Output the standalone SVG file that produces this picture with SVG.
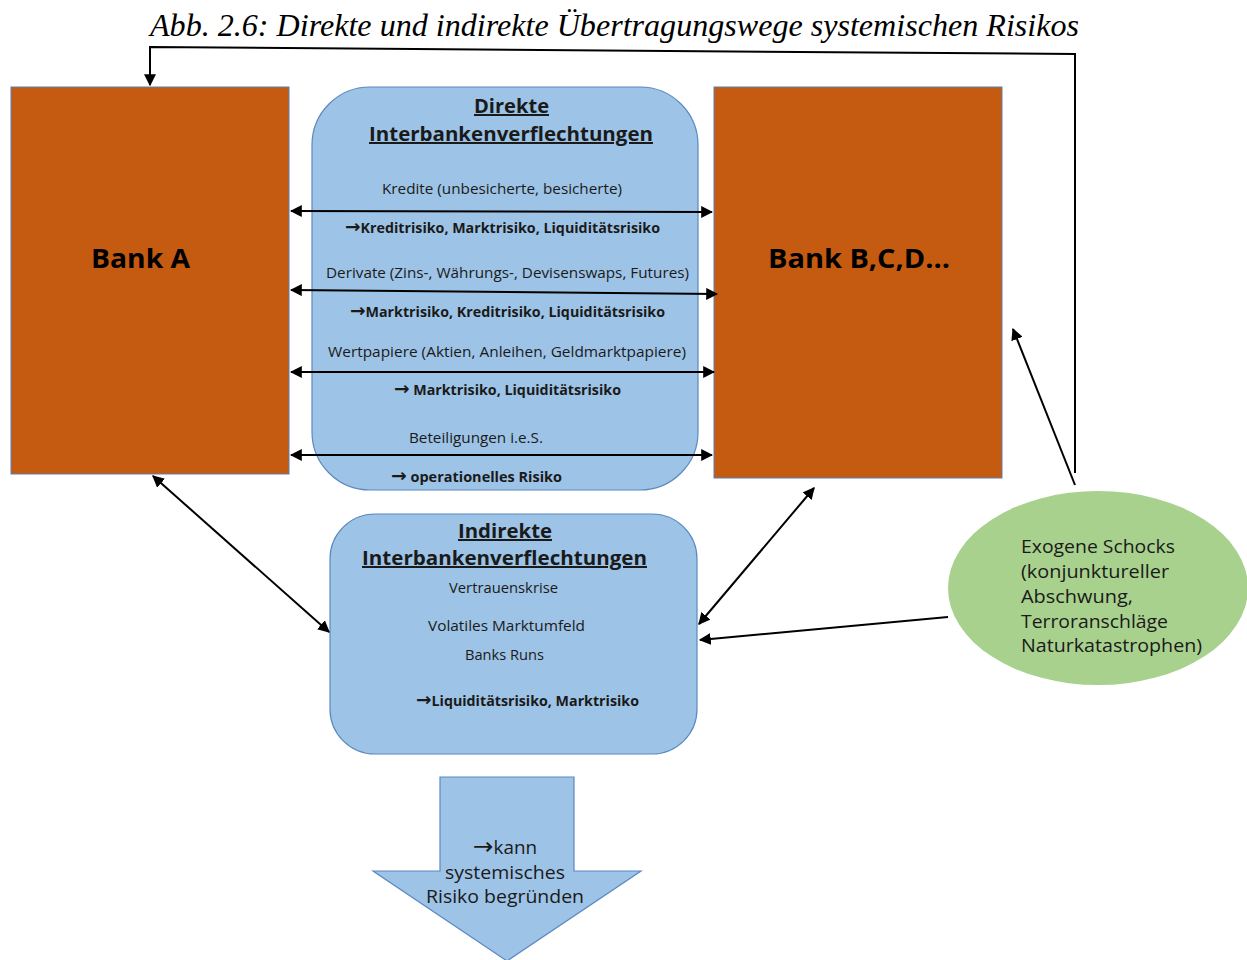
<svg xmlns="http://www.w3.org/2000/svg" width="1247" height="960" viewBox="0 0 1247 960">
  <style>
    .bank { fill: #C55A11; stroke: #5B7FB5; stroke-width: 1; }
    .blue { fill: #9DC3E6; stroke: #5B89C0; stroke-width: 1.2; }
    .green { fill: #A9D18E; stroke: none; }
    .t { font-family: "Open Sans", "Liberation Sans", sans-serif; fill: #1a1a1a; }
    .s { font-size: 14px; }
    .b { font-size: 14px; font-weight: bold; }
    .h { font-size: 20px; font-weight: bold; text-decoration: underline; }
    .bank-t { font-size: 27px; font-weight: bold; fill: #000; }
    .m { font-size: 18px; }
    .arr { font-family: "DejaVu Sans", sans-serif; font-size: 130%; }
    .title { font-family: "Liberation Serif", serif; font-style: italic; font-size: 31px; fill: #000; }
    .c { fill: none; stroke: #000; stroke-width: 2; }
  </style>
  <defs>
    <marker id="ah" viewBox="0 0 10 10" refX="9" refY="5" markerWidth="6" markerHeight="6" orient="auto-start-reverse" markerUnits="strokeWidth">
      <path d="M0,0 L10,5 L0,10 z" fill="#000"/>
    </marker>
  </defs>

  <text class="title" x="150" y="36" textLength="929" lengthAdjust="spacingAndGlyphs">Abb. 2.6: Direkte und indirekte Übertragungswege systemischen Risikos</text>

  <!-- Bank A -->
  <g id="bank-a">
    <rect class="bank" x="11" y="87" width="278" height="387"/>
    <text class="t bank-t" x="91" y="268" textLength="99" lengthAdjust="spacingAndGlyphs">Bank A</text>
  </g>

  <!-- Bank B, C, D -->
  <g id="bank-bcd">
    <rect class="bank" x="714" y="87" width="288" height="391"/>
    <text class="t bank-t" x="768" y="268" textLength="182" lengthAdjust="spacingAndGlyphs">Bank B,C,D...</text>
  </g>

  <!-- direct interbank links -->
  <g id="direkt">
    <rect class="blue" x="312" y="87" width="386" height="403" rx="58" ry="58"/>
    <text class="t h" x="474" y="113" textLength="75" lengthAdjust="spacingAndGlyphs">Direkte</text>
    <text class="t h" x="369" y="141" textLength="284" lengthAdjust="spacingAndGlyphs">Interbankenverflechtungen</text>
    <text class="t s" x="382" y="194" textLength="240" lengthAdjust="spacingAndGlyphs">Kredite (unbesicherte, besicherte)</text>
    <text class="t b" x="345" y="233" textLength="315" lengthAdjust="spacingAndGlyphs"><tspan class="arr">→</tspan>Kreditrisiko, Marktrisiko, Liquiditätsrisiko</text>
    <text class="t s" x="326" y="278" textLength="363" lengthAdjust="spacingAndGlyphs">Derivate (Zins-, Währungs-, Devisenswaps, Futures)</text>
    <text class="t b" x="350" y="317" textLength="315" lengthAdjust="spacingAndGlyphs"><tspan class="arr">→</tspan>Marktrisiko, Kreditrisiko, Liquiditätsrisiko</text>
    <text class="t s" x="328" y="357" textLength="358" lengthAdjust="spacingAndGlyphs">Wertpapiere (Aktien, Anleihen, Geldmarktpapiere)</text>
    <text class="t b" x="394" y="395" textLength="227" lengthAdjust="spacingAndGlyphs"><tspan class="arr">→</tspan> Marktrisiko, Liquiditätsrisiko</text>
    <text class="t s" x="409" y="443" textLength="134" lengthAdjust="spacingAndGlyphs">Beteiligungen i.e.S.</text>
    <text class="t b" x="391" y="482" textLength="171" lengthAdjust="spacingAndGlyphs"><tspan class="arr">→</tspan> operationelles Risiko</text>
  </g>

  <!-- indirect interbank links -->
  <g id="indirekt">
    <rect class="blue" x="330" y="514" width="367" height="240" rx="45" ry="45"/>
    <text class="t h" x="458" y="538" textLength="94" lengthAdjust="spacingAndGlyphs">Indirekte</text>
    <text class="t h" x="362" y="565" textLength="285" lengthAdjust="spacingAndGlyphs">Interbankenverflechtungen</text>
    <text class="t s" x="449" y="593" textLength="109" lengthAdjust="spacingAndGlyphs">Vertrauenskrise</text>
    <text class="t s" x="428" y="631" textLength="157" lengthAdjust="spacingAndGlyphs">Volatiles Marktumfeld</text>
    <text class="t s" x="465" y="660" textLength="79" lengthAdjust="spacingAndGlyphs">Banks Runs</text>
    <text class="t b" x="416" y="706" textLength="223" lengthAdjust="spacingAndGlyphs"><tspan class="arr">→</tspan>Liquiditätsrisiko, Marktrisiko</text>
  </g>

  <!-- result arrow -->
  <g id="ergebnis">
    <path class="blue" d="M440,777 L574,777 L574,871 L641,871 L507,961 L373,871 L440,871 Z"/>
    <text class="t m" x="473" y="854" textLength="64" lengthAdjust="spacingAndGlyphs"><tspan class="arr">→</tspan>kann</text>
    <text class="t m" x="445" y="879" textLength="120" lengthAdjust="spacingAndGlyphs">systemisches</text>
    <text class="t m" x="426" y="903" textLength="158" lengthAdjust="spacingAndGlyphs">Risiko begründen</text>
  </g>

  <!-- exogenous shocks -->
  <g id="schocks">
    <ellipse class="green" cx="1098" cy="588" rx="150" ry="97"/>
    <text class="t m" x="1021" y="553" textLength="154" lengthAdjust="spacingAndGlyphs">Exogene Schocks</text>
    <text class="t m" x="1021" y="578" textLength="148" lengthAdjust="spacingAndGlyphs">(konjunktureller</text>
    <text class="t m" x="1021" y="603" textLength="112" lengthAdjust="spacingAndGlyphs">Abschwung,</text>
    <text class="t m" x="1021" y="628" textLength="147" lengthAdjust="spacingAndGlyphs">Terroranschläge</text>
    <text class="t m" x="1021" y="652" textLength="181" lengthAdjust="spacingAndGlyphs">Naturkatastrophen)</text>
  </g>

  <!-- connectors -->
  <g id="connectors">
    <line class="c" x1="291" y1="211" x2="712" y2="212" marker-start="url(#ah)" marker-end="url(#ah)"/>
    <line class="c" x1="291" y1="290" x2="717" y2="294" marker-start="url(#ah)" marker-end="url(#ah)"/>
    <line class="c" x1="291" y1="372" x2="714" y2="372" marker-start="url(#ah)" marker-end="url(#ah)"/>
    <line class="c" x1="291" y1="455" x2="712" y2="455" marker-start="url(#ah)" marker-end="url(#ah)"/>
    <line class="c" x1="153" y1="476" x2="329" y2="632" marker-start="url(#ah)" marker-end="url(#ah)"/>
    <line class="c" x1="814" y1="488" x2="699" y2="624" marker-start="url(#ah)" marker-end="url(#ah)"/>
    <line class="c" x1="948" y1="617" x2="700" y2="640" marker-end="url(#ah)"/>
    <line class="c" x1="1075" y1="485" x2="1013" y2="329" marker-end="url(#ah)"/>
    <polyline class="c" points="1075,473 1075,54 150,47 150,85" marker-end="url(#ah)"/>
  </g>
</svg>
